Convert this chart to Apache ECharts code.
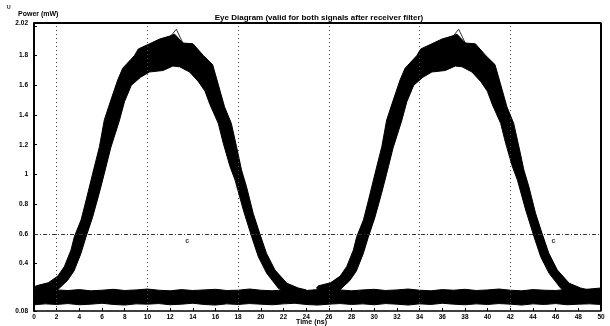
<!DOCTYPE html>
<html>
<head>
<meta charset="utf-8">
<script src="https://cdn.jsdelivr.net/npm/echarts@6/dist/echarts.min.js"></script>
<style>html,body{margin:0;padding:0;background:#fff}#c{width:610px;height:326px}</style>
</head>
<body>
<div id="c"></div>
<script>
// ---- data ----
const titleText = 'Eye Diagram (valid for both signals after receiver filter)';
const yTitle = 'Power (mW)';
const xTitle = 'Time (ns)';
const xMin = 0, xMax = 50, xStep = 2;
const yMin = 0.08, yMax = 2.02;
const hiddenYLabels = [0.2, 2.0];
const gridX = [2, 10, 18, 26, 34, 42];
const gridY = [0.6];

// pulse 1 eye band: outer (upper/left) edge and inner (lower) edge [time, power]
const pulse1Outer = [[0.0,0.24],[0.2,0.25],[1.25,0.27],[2.1,0.315],[2.68,0.38],[3.26,0.49],[3.56,0.581],[4.15,0.693],[4.6,0.828],[5.18,1.008],[5.77,1.187],[6.2,1.367],[6.78,1.501],[7.38,1.636],[7.82,1.715],[8.85,1.8],[9.2,1.845],[10.19,1.88],[11.08,1.912],[11.96,1.932],[12.40,1.945],[13.13,1.885],[14.02,1.88],[14.95,1.8],[15.75,1.74],[16.22,1.614],[16.8,1.456],[17.4,1.344],[17.86,1.187],[18.3,1.030],[18.74,0.917],[19.33,0.738],[19.9,0.603],[20.5,0.469],[21.25,0.356],[22.3,0.267],[23.3,0.235],[24.0,0.222]];
const pulse1Inner = [[0.93,0.2],[1.9,0.21],[2.95,0.285],[3.53,0.35],[4.13,0.465],[4.57,0.575],[5.16,0.71],[5.74,0.87],[6.18,1.0],[6.77,1.18],[7.52,1.36],[7.98,1.49],[8.58,1.6],[9.4,1.655],[10.19,1.69],[11.37,1.70],[12.25,1.73],[12.84,1.725],[13.72,1.69],[14.5,1.625],[15.08,1.56],[15.52,1.47],[16.25,1.344],[16.69,1.21],[17.29,1.052],[17.73,0.962],[18.46,0.760],[19.19,0.581],[19.78,0.446],[20.52,0.334],[21.55,0.233],[22.25,0.2]];
// pulse 2 eye band
const pulse2Outer = [[24.9,0.235],[25.1,0.25],[26.15,0.27],[27.0,0.315],[27.58,0.38],[28.16,0.49],[28.46,0.581],[29.05,0.693],[29.5,0.828],[30.08,1.008],[30.67,1.187],[31.1,1.367],[31.68,1.501],[32.28,1.636],[32.72,1.715],[33.75,1.8],[34.1,1.845],[35.09,1.88],[35.98,1.912],[36.86,1.932],[37.30,1.945],[38.03,1.885],[38.92,1.88],[39.85,1.8],[40.65,1.74],[41.12,1.614],[41.7,1.456],[42.3,1.344],[42.76,1.187],[43.2,1.030],[43.64,0.917],[44.23,0.738],[44.8,0.603],[45.4,0.469],[46.15,0.356],[47.2,0.267],[48.2,0.235],[48.9,0.222]];
const pulse2Inner = [[25.83,0.2],[26.8,0.21],[27.85,0.285],[28.43,0.35],[29.03,0.465],[29.47,0.575],[30.06,0.71],[30.64,0.87],[31.08,1.0],[31.67,1.18],[32.42,1.36],[32.88,1.49],[33.48,1.6],[34.3,1.655],[35.09,1.69],[36.27,1.70],[37.15,1.73],[37.74,1.725],[38.62,1.69],[39.4,1.625],[39.98,1.56],[40.42,1.47],[41.15,1.344],[41.59,1.21],[42.19,1.052],[42.63,0.962],[43.36,0.760],[44.09,0.581],[44.68,0.446],[45.42,0.334],[46.45,0.233],[47.15,0.2]];
// zero-level band: top and bottom edges
const baseX =      [0,    1,    2,    3,    4,    5,    6,    7,    8,    9,    10,   11,   12,   13,   14,   15,   16,   17,   18,   19,   20,   21,   22,   23,   24,   25,   26,   27,   28,   29,   30,   31,   32,   33,   34,   35,   36,   37,   38,   39,   40,   41,   42,   43,   44,   45,   46,   47,   48,   49,   50];
const baseTop =    [0.23, 0.226,0.222,0.218,0.224,0.216,0.22, 0.226,0.218,0.222,0.228,0.22, 0.216,0.224,0.218,0.222,0.226,0.218,0.22, 0.228,0.22, 0.216,0.222,0.226,0.218,0.224,0.23, 0.222,0.216,0.222,0.226,0.218,0.222,0.228,0.22, 0.216,0.224,0.22, 0.226,0.218,0.222,0.228,0.22, 0.216,0.224,0.22, 0.218,0.226,0.222,0.228,0.235];
const baseBottom = [0.122,0.128,0.124,0.13, 0.122,0.126,0.132,0.124,0.12, 0.128,0.126,0.13, 0.122,0.126,0.132,0.124,0.12, 0.128,0.124,0.13, 0.126,0.122,0.128,0.132,0.124,0.12, 0.126,0.13, 0.124,0.128,0.122,0.13, 0.126,0.12, 0.128,0.124,0.132,0.126,0.122,0.128,0.124,0.13, 0.126,0.12, 0.128,0.124,0.13, 0.122,0.126,0.128,0.124];
// thin outlier traces near the peaks
const spike1 = [[12.1,1.935],[12.55,1.978],[13.1,1.89],[14.16,1.81],[15.05,1.775],[15.49,1.755]];
const spike2 = [[37.0,1.935],[37.45,1.978],[38.0,1.89],[39.06,1.81],[39.95,1.775],[40.39,1.755]];
// small text markers "c"
const cMarks = [[13.5,0.552],[45.8,0.552]];

// ---- chart ----
function bandSeries(upper, lower) {
  return {
    type: 'custom', z: 3, silent: true,
    data: [[0]],
    renderItem: function (params, api) {
      const pts = [];
      upper.forEach(p => pts.push(api.coord(p)));
      lower.slice().reverse().forEach(p => pts.push(api.coord(p)));
      return { type: 'polygon', shape: { points: pts }, style: { fill: '#000', stroke: '#000', lineWidth: 1 } };
    }
  };
}
const baseUpper = baseX.map((x, i) => [x, baseTop[i]]);
const baseLower = baseX.map((x, i) => [x, baseBottom[i]]);

const font = 'Liberation Sans, Arial, sans-serif';
const chart = echarts.init(document.getElementById('c'), null, { renderer: 'canvas' });
chart.setOption({
  animation: false,
  backgroundColor: '#fff',
  title: {
    text: titleText, left: 314, top: 9, textAlign: 'center',
    textStyle: { fontSize: 8, fontWeight: 'bold', fontFamily: font, color: '#000' }
  },
  graphic: [
    { type: 'text', left: 18, top: 11, style: { text: yTitle, font: 'bold 7px ' + font, fill: '#000' } },
    { type: 'text', left: 7, top: 5, style: { text: 'U', font: 'bold 5px ' + font, fill: '#000' } },
    { type: 'text', left: 296, top: 319, style: { text: xTitle, font: 'bold 7px ' + font, fill: '#000' } }
  ],
  grid: { left: 34, right: 9, top: 23, bottom: 15, show: false },
  xAxis: {
    type: 'value', min: xMin, max: xMax, interval: xStep,
    axisLine: { show: true, lineStyle: { color: '#000', width: 1.5 } },
    axisTick: { inside: true, length: 3, lineStyle: { color: '#000' } },
    axisLabel: { fontSize: 6.5, fontWeight: 'bold', fontFamily: font, color: '#000', margin: 3 },
    splitLine: { show: false }
  },
  yAxis: {
    type: 'value', min: yMin, max: yMax, splitNumber: 10,
    axisLine: { show: true, lineStyle: { color: '#000', width: 2 } },
    axisTick: { show: true, inside: true, length: 3, lineStyle: { color: '#000' } },
    axisLabel: {
      fontSize: 6.5, fontWeight: 'bold', fontFamily: font, color: '#000', margin: 6,
      formatter: function (v) {
        if (hiddenYLabels.some(h => Math.abs(h - v) < 1e-6)) return '';
        if (Math.abs(v - yMin) < 1e-6 || Math.abs(v - yMax) < 1e-6) return v.toFixed(2);
        if (Math.abs(v - 1) < 1e-6) return '1';
        return v.toFixed(1);
      }
    },
    splitLine: { show: false }
  },
  series: [
    {
      type: 'scatter', z: 1, silent: true, symbolSize: 0,
      data: cMarks,
      label: { show: true, position: 'inside', formatter: 'c', fontSize: 7, fontWeight: 'bold', fontFamily: font, color: '#000' },
      markLine: {
        silent: true, symbol: 'none', label: { show: false },
        data: gridX.map(x => ({ xAxis: x, lineStyle: { color: '#444', type: [1, 3], width: 1 } }))
          .concat(gridY.map(y => ({ yAxis: y, lineStyle: { color: '#333', type: [4, 2, 1, 2], width: 1 } })))
      }
    },
    bandSeries(baseUpper, baseLower),
    bandSeries(pulse1Outer, pulse1Inner),
    bandSeries(pulse2Outer, pulse2Inner),
    { type: 'line', z: 4, silent: true, symbol: 'none', data: spike1, lineStyle: { color: '#000', width: 0.8 } },
    { type: 'line', z: 4, silent: true, symbol: 'none', data: spike2, lineStyle: { color: '#000', width: 0.8 } },
    // top and right frame
    {
      type: 'line', z: 5, silent: true, symbol: 'none',
      data: [[xMin, yMax], [xMax, yMax], [xMax, yMin]],
      lineStyle: { color: '#000', width: 2 }
    }
  ]
});
</script>
</body>
</html>
